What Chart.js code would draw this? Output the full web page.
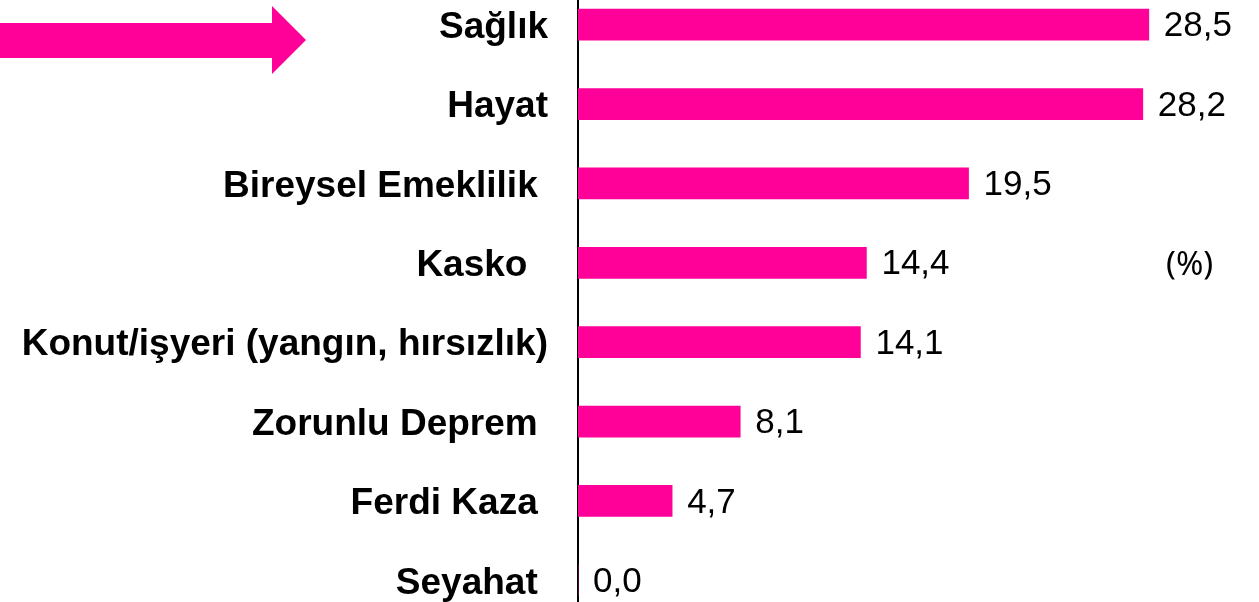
<!DOCTYPE html>
<html>
<head>
<meta charset="utf-8">
<style>
  html, body { margin: 0; padding: 0; background: #fff; overflow: hidden; }
  body { width: 1259px; height: 602px; position: relative; }
  #wrap { position: absolute; left: 0; top: -15px; width: 1259px; height: 635px; }
  #arrow { position: absolute; left: 0; top: 0; }
  #unit { position: absolute; left: 1166px; top: 240px; font: 33px "Noto Sans", "Open Sans", sans-serif; color: #000; }
</style>
<script src="https://cdn.jsdelivr.net/npm/chart.js@4"></script>
</head>
<body>
<div id="wrap"><canvas id="barChart"></canvas></div>
<svg id="arrow" width="320" height="80">
  <polygon points="0,23 272,23 272,6 306,40 272,74 272,58 0,58" fill="#ff0099"/>
</svg>
<div id="unit">(%)</div>
<script>
// ---- Data ----
var categories = ['Sağlık', 'Hayat', 'Bireysel Emeklilik ', 'Kasko  ', 'Konut/işyeri (yangın, hırsızlık)', 'Zorunlu Deprem ', 'Ferdi Kaza ', 'Seyahat '];
var shares = [28.5, 28.2, 19.5, 14.4, 14.1, 8.1, 4.7, 0.0];
var shareLabels = shares.map(function (v) { return v.toFixed(1).replace('.', ','); });

var pink = '#ff0099';

// value labels at the end of each bar
var valueLabels = {
    id: 'valueLabels',
    afterDatasetsDraw: function (chart) {
        var ctx = chart.ctx;
        var meta = chart.getDatasetMeta(0);
        ctx.save();
        ctx.font = '35px "Liberation Sans", Arial, sans-serif';
        ctx.fillStyle = '#000';
        ctx.textAlign = 'left';
        ctx.textBaseline = 'middle';
        meta.data.forEach(function (bar, i) {
            ctx.fillText(shareLabels[i], bar.x + 15, bar.y + 2);
        });
        ctx.restore();
    }
};

new Chart(document.getElementById('barChart'), {
    type: 'bar',
    data: {
        labels: categories,
        datasets: [{
            data: shares,
            backgroundColor: pink,
            borderWidth: 0,
            barThickness: 31
        }]
    },
    options: {
        indexAxis: 'y',
        responsive: true,
        maintainAspectRatio: false,
        animation: false,
        layout: { padding: 0 },
        plugins: {
            legend: { display: false },
            tooltip: { enabled: false }
        },
        scales: {
            x: {
                display: false,
                min: 0,
                max: 34
            },
            y: {
                grid: { display: false, drawTicks: false },
                border: { display: true, color: '#000', width: 2 },
                ticks: {
                    padding: 30,
                    labelOffset: 3,
                    color: '#000',
                    font: { family: '"Liberation Sans", Arial, sans-serif', size: 37, weight: 'bold' }
                },
                afterFit: function (axis) {
                    axis.width = 578;
                    axis.paddingTop = 0;
                    axis.paddingBottom = 0;
                }
            }
        }
    },
    plugins: [valueLabels]
});
</script>
</body>
</html>
